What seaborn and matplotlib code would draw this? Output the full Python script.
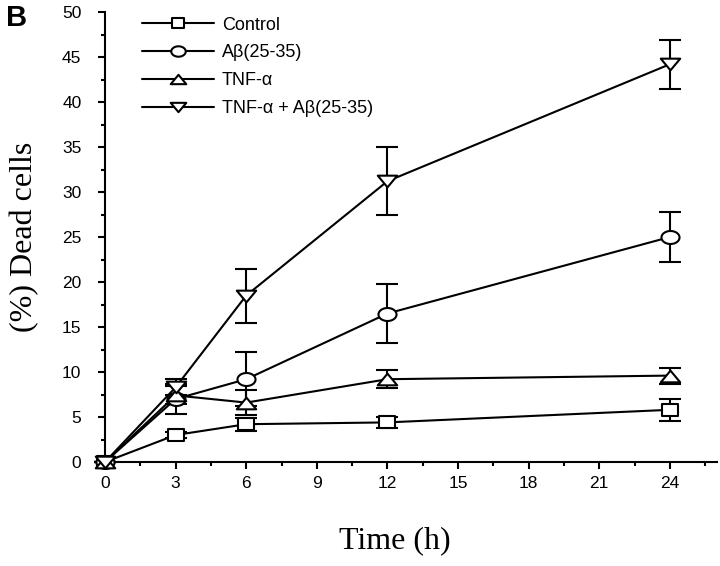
import numpy as np
import pandas as pd
import matplotlib
matplotlib.use("Agg")
import matplotlib.pyplot as plt
import seaborn as sns
from matplotlib.path import Path
from matplotlib.ticker import MultipleLocator

# ---- data ----
time_h = [0, 3, 6, 12, 24]
series_names = ["Control", "Aβ(25-35)", "TNF-α", "TNF-α + Aβ(25-35)"]
control = [0, 3.0, 4.2, 4.4, 5.8]
control_err = [0, 0.3, 0.7, 0.6, 1.2]
abeta = [0, 7.0, 9.2, 16.5, 25.0]
abeta_err = [0, 1.7, 3.0, 3.3, 2.8]
tnf = [0, 7.4, 6.6, 9.2, 9.6]
tnf_err = [0, 1.0, 1.4, 1.0, 0.9]
combo = [0, 8.3, 18.5, 31.2, 44.2]
combo_err = [0, 0.9, 3.0, 3.8, 2.7]
x_ticks = [0, 3, 6, 9, 12, 15, 18, 21, 24]
y_ticks = [0, 5, 10, 15, 20, 25, 30, 35, 40, 45, 50]

sns.set_theme(style="ticks")
plt.rcParams["font.family"] = ["Liberation Sans", "DejaVu Sans"]


def closed(verts):
    verts = list(verts) + [verts[0]]
    codes = [Path.MOVETO] + [Path.LINETO] * (len(verts) - 2) + [Path.CLOSEPOLY]
    return Path(verts, codes)


t = np.linspace(0, 2 * np.pi, 64, endpoint=False)
m_square = closed([(-0.5, -0.37), (0.5, -0.37), (0.5, 0.37), (-0.5, 0.37)])
m_ellipse = closed(list(zip(0.5 * np.cos(t), 0.36 * np.sin(t))))
m_tri_up = closed([(-0.5, -0.3), (0.5, -0.3), (0.0, 0.3)])
m_tri_dn = closed([(-0.5, 0.3), (0.5, 0.3), (0.0, -0.3)])

values = [control, abeta, tnf, combo]
errors = [control_err, abeta_err, tnf_err, combo_err]
markers = [m_square, m_ellipse, m_tri_up, m_tri_dn]
msizes = [11.5, 13, 14, 14]

fig = plt.figure(figsize=(7.2, 5.66), dpi=100)
ax = fig.add_axes([105 / 720, 1 - 462 / 566, 612 / 720, 450 / 566])

lw = 1.5
for name, vals, errs, mk, ms in zip(series_names, values, errors, markers, msizes):
    df = pd.DataFrame({"time": time_h, "value": vals})
    ax.errorbar(df["time"], df["value"], yerr=errs, fmt="none", ecolor="black",
                elinewidth=lw, capsize=8, capthick=lw, zorder=2, clip_on=False)
    sns.lineplot(data=df, x="time", y="value", ax=ax, color="black", linewidth=lw,
                 marker=mk, markersize=ms, markerfacecolor="white",
                 markeredgecolor="black", markeredgewidth=lw, label=name,
                 zorder=3, clip_on=False)

ax.set_xlim(0, 26)
ax.set_ylim(0, 50)
ax.xaxis.set_major_locator(MultipleLocator(3))
ax.xaxis.set_minor_locator(MultipleLocator(1.5))
ax.yaxis.set_major_locator(MultipleLocator(5))
ax.yaxis.set_minor_locator(MultipleLocator(2.5))
ax.set_xticks(x_ticks)
ax.set_yticks(y_ticks)
ax.tick_params(axis="both", which="major", direction="out", length=5, width=lw,
               labelsize=12.5, color="black", labelcolor="black")
ax.tick_params(axis="both", which="minor", direction="out", length=3, width=lw,
               color="black")
ax.tick_params(axis="x", which="major", pad=5)
ax.tick_params(axis="y", which="major", pad=12)
for s in ["top", "right"]:
    ax.spines[s].set_visible(False)
for s in ["left", "bottom"]:
    ax.spines[s].set_linewidth(lw)
    ax.spines[s].set_color("black")

ax.set_xlabel("Time (h)", family=["Liberation Serif", "DejaVu Serif"], fontsize=23,
              labelpad=26, color="black")
ax.xaxis.set_label_coords(0.474, -0.175)
ax.xaxis.label.set_va("center")
ax.set_ylabel("(%) Dead cells", family=["Liberation Serif", "DejaVu Serif"], fontsize=23,
              labelpad=16, color="black")

leg = ax.legend(loc="upper left", bbox_to_anchor=(0.06, 0.99), frameon=False,
                fontsize=13, handlelength=4.0, handletextpad=0.45, labelspacing=0.6,
                borderpad=0, borderaxespad=0, markerscale=0.8)
for txt in leg.get_texts():
    txt.set_color("black")

fig.text(6 / 720, 1 - 4 / 566, "B", fontsize=21, fontweight="bold", va="top", ha="left",
         color="black")

fig.savefig("out.png", dpi=100, facecolor="white")
